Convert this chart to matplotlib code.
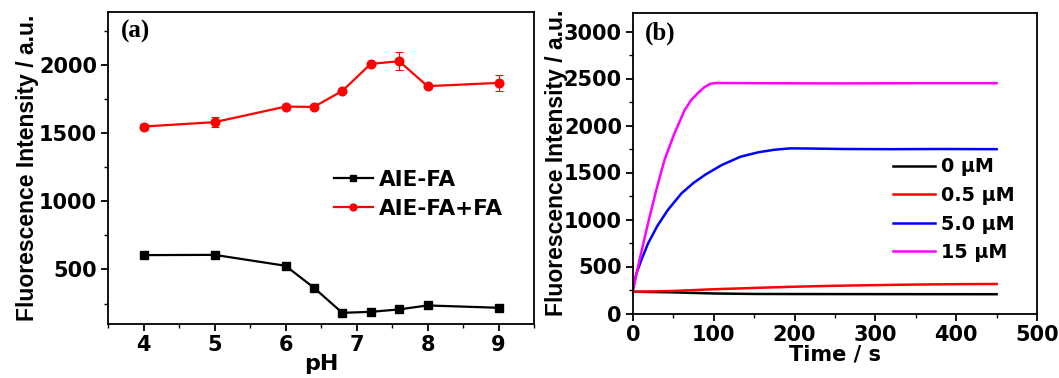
import numpy as np
import matplotlib
matplotlib.use('Agg')
import matplotlib.pyplot as plt
from matplotlib.ticker import MultipleLocator

plt.rcParams['font.family'] = ['DejaVu Sans']
plt.rcParams['font.weight'] = 'bold'

# panel (a): pH dependence
ph = [4, 5, 6, 6.4, 6.8, 7.2, 7.6, 8, 9]
aie_fa = [605, 607, 527, 366, 182, 189, 207, 236, 219]
aie_fa_fa = [1548, 1580, 1694, 1692, 1809, 2007, 2027, 1844, 1868]
aie_fa_fa_err = [20, 37, 15, 12, 15, 12, 67, 10, 59]

# panel (b): time course
t_0 = [0, 50, 100, 150, 200, 300, 450]
i_0 = [232, 225, 213, 208, 207, 206, 205]
t_05 = [0, 50, 100, 150, 200, 250, 300, 350, 400, 450]
i_05 = [230, 240, 258, 272, 285, 295, 302, 308, 312, 314]
t_5 = [0, 4, 10, 18.6, 30, 43, 60, 75, 90, 110, 133, 155, 175, 195, 220, 260, 320, 380, 450]
i_5 = [260, 420, 560, 745, 930, 1100, 1278, 1390, 1480, 1580, 1668, 1715, 1742, 1757, 1755, 1750, 1748, 1750, 1748]
t_15 = [0, 8, 19.5, 29, 39, 51, 64, 72, 80, 88, 96, 104, 150, 250, 350, 450]
i_15 = [250, 568, 993, 1320, 1633, 1910, 2165, 2270, 2343, 2405, 2445, 2452, 2450, 2448, 2450, 2450]

fig = plt.figure(figsize=(10.59, 3.78), dpi=100)
W, H = 1059, 378
ax1 = fig.add_axes([108/W, 1-324/H, (534-108)/W, (324-11.7)/H])
ax2 = fig.add_axes([633/W, 1-313.5/H, (1037-633)/W, (313.5-12.7)/H])

tick_kw = dict(direction='out', labelsize=15, width=1.3, top=False, right=False, pad=3)
ylab_kw = dict(fontsize=16.5, fontweight='bold', family='Liberation Sans')

ax1.errorbar(ph, aie_fa_fa, yerr=aie_fa_fa_err, fmt='none', ecolor='red',
             elinewidth=0.8, capsize=3, capthick=0.8)
ax1.plot(ph, aie_fa, '-s', color='black', lw=1.6, ms=5.2, label='AIE-FA')
ax1.plot(ph, aie_fa_fa, '-o', color='red', lw=1.6, ms=6.2, label='AIE-FA+FA')
ax1.set_xlim(3.5, 9.5)
ax1.set_ylim(100, 2390)
ax1.set_yticks([500, 1000, 1500, 2000])
ax1.yaxis.set_minor_locator(MultipleLocator(250))
ax1.xaxis.set_minor_locator(MultipleLocator(0.5))
ax1.tick_params(which='major', length=5, **tick_kw)
ax1.tick_params(which='minor', length=3, direction='out', width=1.0, top=False, right=False)
ax1.set_xlabel('pH', fontsize=16, fontweight='bold', labelpad=-1)
ax1.set_ylabel('Fluorescence Intensity / a.u.', labelpad=0, **ylab_kw)
ax1.text(0.03, 0.975, '(a)', transform=ax1.transAxes, fontsize=18, fontweight='bold',
         family='Liberation Serif', va='top', ha='left')
ax1.legend(loc='center left', bbox_to_anchor=(0.485, 0.415), frameon=False,
           fontsize=15.5, handlelength=1.8, handletextpad=0.3, labelspacing=0.42,
           markerscale=0.8)

ax2.plot(t_0, i_0, color='black', lw=1.8, label='0 μM')
ax2.plot(t_05, i_05, color='red', lw=1.8, label='0.5 μM')
ax2.plot(t_5, i_5, color='blue', lw=1.8, label='5.0 μM')
ax2.plot(t_15, i_15, color='magenta', lw=1.8, label='15 μM')
ax2.set_xlim(0, 500)
ax2.set_ylim(0, 3200)
ax2.set_xticks([0, 100, 200, 300, 400, 500])
ax2.set_yticks([0, 500, 1000, 1500, 2000, 2500, 3000])
ax2.xaxis.set_minor_locator(MultipleLocator(50))
ax2.yaxis.set_minor_locator(MultipleLocator(250))
ax2.tick_params(which='major', length=5, **tick_kw)
ax2.tick_params(which='minor', length=3, direction='out', width=1.0, top=False, right=False)
ax2.set_xlabel('Time / s', fontsize=15, fontweight='bold', labelpad=0)
ax2.set_ylabel('Fluorescence Intensity / a.u.', labelpad=-3, **ylab_kw)
ax2.text(0.03, 0.97, '(b)', transform=ax2.transAxes, fontsize=18, fontweight='bold',
         family='Liberation Serif', va='top', ha='left')
ax2.legend(loc='center left', bbox_to_anchor=(0.6, 0.345), frameon=False, fontsize=13.8,
           handlelength=2.2, handletextpad=0.3, labelspacing=0.5)

for ax in (ax1, ax2):
    for s in ax.spines.values():
        s.set_linewidth(1.3)

fig.savefig('out.png', dpi=100)
